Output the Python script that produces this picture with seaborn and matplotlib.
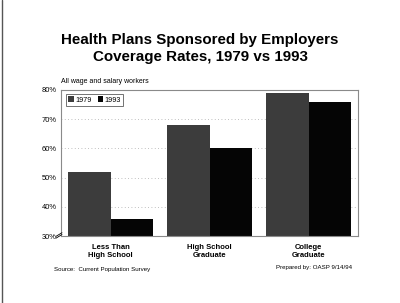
import matplotlib
matplotlib.use("Agg")
import matplotlib.pyplot as plt
import seaborn as sns
import pandas as pd
from matplotlib.lines import Line2D

# Data
categories = ["Less Than\nHigh School", "High School\nGraduate", "College\nGraduate"]
rate_1979 = [52, 68, 79]
rate_1993 = [36, 60, 76]

df = pd.DataFrame({
    "education": categories * 2,
    "year": ["1979"] * 3 + ["1993"] * 3,
    "rate": rate_1979 + rate_1993,
})

sns.set_style("white")
plt.rcParams["font.family"] = ["Liberation Sans", "DejaVu Sans"]
plt.rcParams["text.color"] = "black"
plt.rcParams["xtick.color"] = "black"
plt.rcParams["ytick.color"] = "black"

fig = plt.figure(figsize=(4.0, 3.03), dpi=100)
ax = fig.add_axes([0.1525, 0.221, 0.7425, 0.482])

sns.barplot(data=df, x="education", y="rate", hue="year",
            palette={"1979": "#3c3c3c", "1993": "#050505"},
            width=0.85, saturation=1, linewidth=0, ax=ax)

ax.set_ylim(30, 80)
ax.set_xlim(-0.5, 2.5)
ax.set_yticks([30, 40, 50, 60, 70, 80])
ax.set_yticklabels([f"{v}%" for v in [30, 40, 50, 60, 70, 80]], fontsize=5.4)
ax.set_xticks(range(3))
ax.set_xticklabels(categories, fontsize=5.5, fontweight="bold")
ax.tick_params(axis="both", length=0, pad=3)
ax.tick_params(axis="x", pad=6)
ax.set_xlabel("")
ax.set_ylabel("")
for v in [40, 50, 60, 70]:
    ax.axhline(v, color="#aaaaaa", lw=0.6, ls=(0, (1, 3)), zorder=0)
for s in ax.spines.values():
    s.set_color("#8a8a8a")
    s.set_linewidth(0.8)

leg = ax.legend(loc="upper left", fontsize=5.2, frameon=True, fancybox=False,
                handlelength=0.8, handleheight=0.8, handletextpad=0.2,
                columnspacing=0.8, ncol=2, borderpad=0.3,
                bbox_to_anchor=(0.005, 0.995))
leg.get_frame().set_edgecolor("#333333")
leg.get_frame().set_linewidth(0.6)

fig.text(0.5, 0.84, "Health Plans Sponsored by Employers\nCoverage Rates, 1979 vs 1993",
         ha="center", va="center", fontsize=10.9, fontweight="bold", linespacing=1.3)
fig.text(0.152, 0.718, "All wage and salary workers", fontsize=5.0, ha="left", va="bottom")
fig.text(0.135, 0.112, "Source:  Current Population Survey", fontsize=4.4, ha="left", va="center")
fig.text(0.69, 0.118, "Prepared by: OASP 9/14/94", fontsize=4.4, ha="left", va="center")

# axis break mark at 30%
for dy in (0.0, 0.006):
    fig.add_artist(Line2D([0.14, 0.155], [0.214 + dy, 0.226 + dy], color="black", lw=0.6))

# scanned page edge
fig.add_artist(Line2D([0.004, 0.004], [0.0, 1.0], color="#555555", lw=1.0))

fig.savefig("out.png", dpi=100)
